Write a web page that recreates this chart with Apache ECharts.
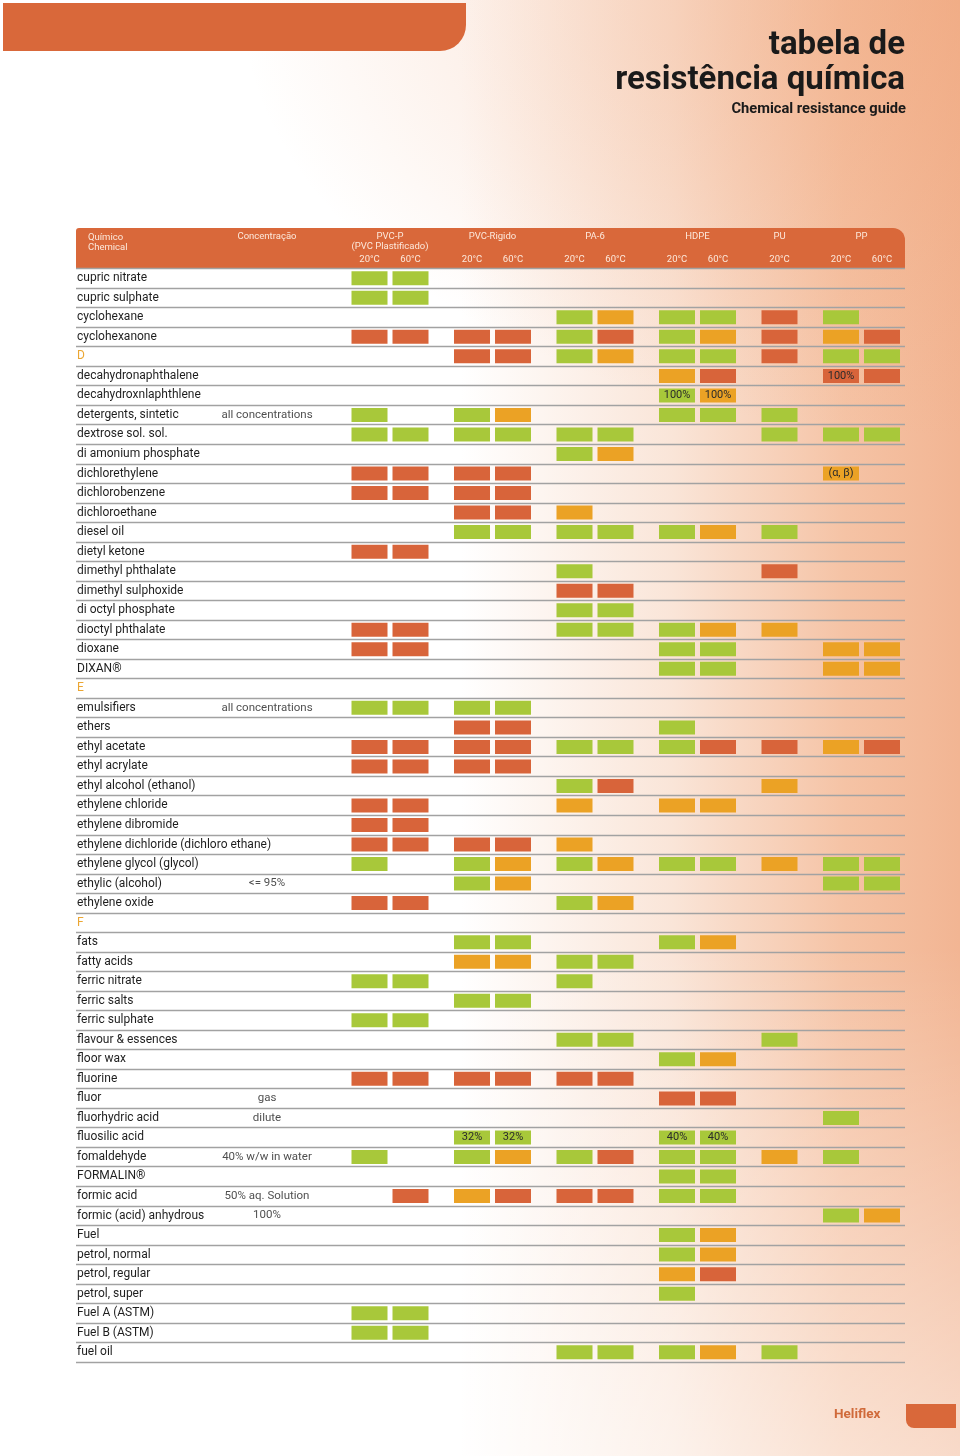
<!DOCTYPE html>
<html>
<head>
<meta charset="utf-8">
<script src="https://cdn.jsdelivr.net/npm/echarts@6/dist/echarts.min.js"></script>
<style>
  html, body { margin: 0; padding: 0; }
  body {
    width: 960px; height: 1456px; overflow: hidden;
    background:
      linear-gradient(to top, rgba(255,255,255,0.5) 0%, rgba(255,255,255,0) 35%),
      radial-gradient(ellipse 75% 30% at 100% 0%, rgba(240,165,122,0.5) 0%, rgba(240,165,122,0) 100%),
      linear-gradient(to right, #ffffff 0%, #ffffff 48%, #fae5d8 70%, #f5c3a5 88%, #f2b593 100%);
  }
  #chart { width: 960px; height: 1456px; }
</style>
</head>
<body>
<div id="chart"></div>
<script>
// linhas da tabela
const chemicals = [
  'cupric nitrate', 'cupric sulphate', 'cyclohexane', 'cyclohexanone', 'D',
  'decahydronaphthalene', 'decahydroxnlaphthlene', 'detergents, sintetic', 'dextrose sol. sol.', 'di amonium phosphate',
  'dichlorethylene', 'dichlorobenzene', 'dichloroethane', 'diesel oil', 'dietyl ketone',
  'dimethyl phthalate', 'dimethyl sulphoxide', 'di octyl phosphate', 'dioctyl phthalate', 'dioxane',
  'DIXAN®', 'E', 'emulsifiers', 'ethers', 'ethyl acetate',
  'ethyl acrylate', 'ethyl alcohol (ethanol)', 'ethylene chloride', 'ethylene dibromide', 'ethylene dichloride (dichloro ethane)',
  'ethylene glycol (glycol)', 'ethylic (alcohol)', 'ethylene oxide', 'F', 'fats',
  'fatty acids', 'ferric nitrate', 'ferric salts', 'ferric sulphate', 'flavour & essences',
  'floor wax', 'fluorine', 'fluor', 'fluorhydric acid', 'fluosilic acid',
  'fomaldehyde', 'FORMALIN®', 'formic acid', 'formic (acid) anhydrous', 'Fuel',
  'petrol, normal', 'petrol, regular', 'petrol, super', 'Fuel A (ASTM)', 'Fuel B (ASTM)',
  'fuel oil'
]
const sectionLetters = ['D', 'E', 'F']

const concentrations = [
  ['detergents, sintetic', 'all concentrations'],
  ['emulsifiers', 'all concentrations'],
  ['ethylic (alcohol)', '<= 95%'],
  ['fluor', 'gas'],
  ['fluorhydric acid', 'dilute'],
  ['fomaldehyde', '40% w/w in water'],
  ['formic acid', '50% aq. Solution'],
  ['formic (acid) anhydrous', '100%']
]

// materiais e temperaturas
const materials = ['PVC-P\n(PVC Plastificado)', 'PVC-Rigido', 'PA-6', 'HDPE', 'PU', 'PP']
const temps = [['20°C', '60°C'], ['20°C', '60°C'], ['20°C', '60°C'], ['20°C', '60°C'], ['20°C'], ['20°C', '60°C']]

// G = resistente, Y = limitado, R = não resistente, - = sem dados
// colunas: PVC-P 20/60, PVC-R 20/60, PA-6 20/60, HDPE 20/60, PU 20, PP 20/60
const ratings = [
  'GG---------', 'GG---------', '----GYGGRG-', 'RRRRGRGYRYR', '--RRGYGGRGG',
  '------YR-RR', '------GY---', 'G-GY--GGG--', 'GGGGGG--GGG', '----GY-----',
  'RRRR-----Y-', 'RRRR-------', '--RRY------', '--GGGGGYG--', 'RR---------',
  '----G---R--', '----RR-----', '----GG-----', 'RR--GGGYY--', 'RR----GG-YY',
  '------GG-YY', '-----------', 'GGGG-------', '--RR--G----', 'RRRRGGGRRYR',
  'RRRR-------', '----GR--Y--', 'RR--Y-YY---', 'RR---------', 'RRRRY------',
  'G-GYGYGGYGG', '--GY-----GG', 'RR--GY-----', '-----------', '--GG--GY---',
  '--YYGG-----', 'GG--G------', '--GG-------', 'GG---------', '----GG--G--',
  '------GY---', 'RRRRRR-----', '------RR---', '---------G-', '--GG--GG---',
  'G-GYGRGGYG-', '------GG---', '-RYRRRGG---', '---------GY', '------GY---',
  '------GY---', '------YR---', '------G----', 'GG---------', 'GG---------',
  '----GGGYG--'
]

// textos dentro das células
const notes = [
  ['decahydronaphthalene', 9, '100%'],
  ['decahydroxnlaphthlene', 6, '100%'],
  ['decahydroxnlaphthlene', 7, '100%'],
  ['dichlorethylene', 9, '(α, β)'],
  ['fluosilic acid', 2, '32%'],
  ['fluosilic acid', 3, '32%'],
  ['fluosilic acid', 6, '40%'],
  ['fluosilic acid', 7, '40%']
]

const ratingColors = { G: '#a8c83a', Y: '#eba225', R: '#d8643a' }
const headerColor = '#d9683a'
const headerText = '#fde9dc'
const font = 'Roboto'

const gridTop = 268.5
const gridHeight = 1093.5
const colWidth = 41
const groupGap = 20.5

const chartDom = document.getElementById('chart')
const myChart = echarts.init(chartDom)

const grids = []
const xAxes = []
const yAxes = []
const series = []

const headerName = {
  nameLocation: 'middle',
  nameGap: 36.5,
  nameMoveOverlap: false,
  nameTextStyle: { color: headerText, fontSize: 9.5, fontFamily: font, verticalAlign: 'top', lineHeight: 10 }
}

// grid 0: nomes dos químicos + linhas
grids.push({ left: 76, width: 829, top: gridTop, height: gridHeight })
xAxes.push({ gridIndex: 0, type: 'value', show: false, min: 0, max: 1 })
yAxes.push({
  gridIndex: 0,
  type: 'category',
  inverse: true,
  data: chemicals.map(name => sectionLetters.includes(name)
    ? { value: name, textStyle: { color: '#eba632' } }
    : name),
  axisLine: { show: false },
  axisTick: { show: false },
  axisLabel: { inside: true, margin: 1, color: '#1e1e1e', fontSize: 12, fontFamily: font },
  splitLine: { show: true, interval: 0, lineStyle: { color: '#a2a2a2', width: 1.3 } }
})

// grid 1: concentração
grids.push({ left: 222, width: 90, top: gridTop, height: gridHeight })
xAxes.push(Object.assign({
  gridIndex: 1, type: 'category', position: 'top', data: [''],
  axisLine: { show: false }, axisTick: { show: false }, axisLabel: { show: false },
  name: 'Concentração'
}, headerName))
yAxes.push({ gridIndex: 1, type: 'category', inverse: true, data: chemicals, show: false })
series.push({
  type: 'scatter',
  xAxisIndex: 1,
  yAxisIndex: 1,
  symbolSize: 0,
  silent: true,
  label: { show: true, position: 'inside', color: '#222', fontSize: 11.5, fontFamily: font, formatter: p => p.data.text },
  data: concentrations.map(([name, text]) => ({ value: [0, chemicals.indexOf(name)], text }))
})

// grids dos materiais
let left = 349
let col = 0
materials.forEach((material, i) => {
  const gi = i + 2
  const matTemps = temps[i]
  grids.push({ left: left, width: matTemps.length * colWidth, top: gridTop, height: gridHeight })
  xAxes.push(Object.assign({
    gridIndex: gi, type: 'category', position: 'top', data: matTemps,
    axisLine: { show: false }, axisTick: { show: false },
    axisLabel: { color: headerText, fontSize: 9.5, fontFamily: font, margin: 3.5 },
    name: material
  }, headerName))
  yAxes.push({ gridIndex: gi, type: 'category', inverse: true, data: chemicals, show: false })

  const data = []
  chemicals.forEach((name, r) => {
    matTemps.forEach((t, ti) => {
      const code = ratings[r][col + ti]
      if (code === '-') return
      const note = notes.find(n => n[0] === name && n[1] === col + ti)
      data.push({
        value: [ti, r],
        itemStyle: { color: ratingColors[code] },
        label: note ? { show: true, formatter: note[2] } : { show: false }
      })
    })
  })
  series.push({
    type: 'scatter',
    name: material,
    xAxisIndex: gi,
    yAxisIndex: gi,
    symbol: 'rect',
    symbolSize: [36, 14],
    silent: true,
    itemStyle: { opacity: 1 },
    label: { position: 'inside', color: '#2b2b2b', fontSize: 11, fontFamily: font },
    data: data
  })

  col += matTemps.length
  left += matTemps.length * colWidth + groupGap
})

const option = {
  animation: false,
  backgroundColor: 'transparent',
  grid: grids,
  xAxis: xAxes,
  yAxis: yAxes,
  series: series,
  graphic: [
    // faixa superior
    { type: 'rect', z: -10, shape: { x: 3, y: 3, width: 463, height: 48, r: [0, 0, 26, 0] }, style: { fill: headerColor } },
    // cabeçalho da tabela
    { type: 'rect', z: -10, shape: { x: 76, y: 228, width: 829, height: 41, r: [3, 12, 0, 0] }, style: { fill: headerColor } },
    { type: 'text', z: 10, left: 88, top: 233, style: { text: 'Químico\nChemical', fill: headerText, fontSize: 9.5, fontFamily: font, lineHeight: 10 } },
    // título
    { type: 'text', z: 10, right: 55, top: 29, style: { text: 'tabela de', fill: '#1a1a1a', fontSize: 33, fontWeight: 'bold', fontFamily: font } },
    { type: 'text', z: 10, right: 55, top: 64, style: { text: 'resistência química', fill: '#1a1a1a', fontSize: 33, fontWeight: 'bold', fontFamily: font } },
    { type: 'text', z: 10, right: 54, top: 102, style: { text: 'Chemical resistance guide', fill: '#1a1a1a', fontSize: 14.7, fontWeight: 'bold', fontFamily: font } },
    // rodapé
    { type: 'rect', z: -10, shape: { x: 906, y: 1404, width: 50, height: 24, r: [0, 0, 0, 8] }, style: { fill: headerColor } },
    { type: 'text', z: 10, left: 834, top: 1408, style: { text: 'Heliflex', fill: '#d06a3a', fontSize: 13.5, fontWeight: 'bold', fontFamily: font } }
  ]
}
myChart.setOption(option)
</script>
</body>
</html>
